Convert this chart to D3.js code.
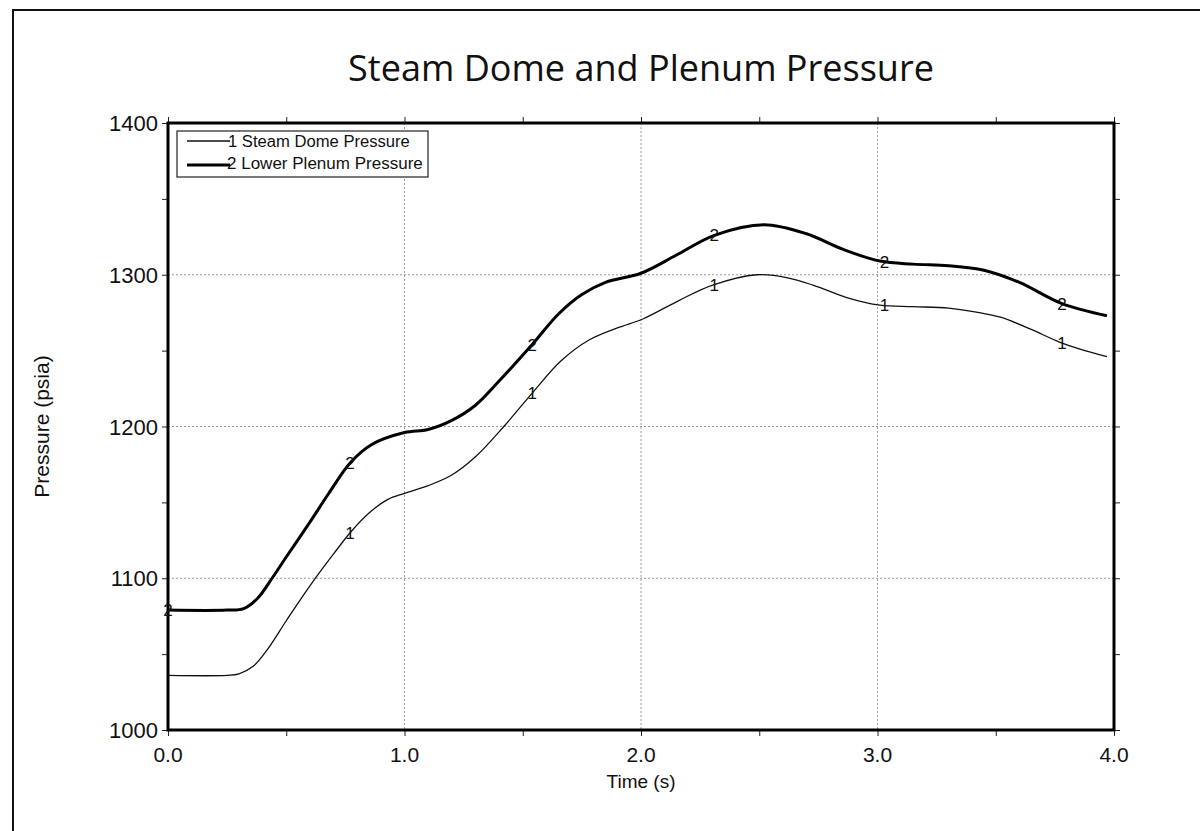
<!DOCTYPE html>
<html>
<head>
<meta charset="utf-8">
<script src="https://cdn.jsdelivr.net/npm/d3@7"></script>
<style>
  html, body { margin: 0; padding: 0; background: #fff; }
  svg { display: block; }
</style>
</head>
<body>
<svg id="chart" width="1200" height="831"></svg>
<script>
// Time samples (s) and pressures (psia) for the two traces
const steamTime = [0, 0.25, 0.3, 0.36, 0.42, 0.5, 0.6, 0.7, 0.77, 0.85, 0.93, 1.0, 1.1, 1.2, 1.3, 1.42, 1.54, 1.66, 1.78, 1.9, 2.01, 2.16, 2.3, 2.49, 2.62, 2.73, 2.87, 3.01, 3.15, 3.3, 3.43, 3.52, 3.65, 3.78, 3.97];
const steamDome = [1036, 1036, 1037, 1042, 1053, 1072, 1095, 1116, 1130, 1143, 1152, 1156, 1161, 1168, 1180, 1200, 1222, 1243, 1257, 1265, 1271, 1283, 1293, 1300, 1298, 1293, 1285, 1280, 1279, 1278, 1275, 1272, 1264, 1255, 1246];

const plenumTime = [0, 0.25, 0.32, 0.38, 0.44, 0.5, 0.6, 0.68, 0.77, 0.86, 1.0, 1.1, 1.2, 1.3, 1.4, 1.54, 1.65, 1.75, 1.85, 2.0, 2.15, 2.31, 2.52, 2.7, 2.85, 3.01, 3.15, 3.3, 3.45, 3.6, 3.78, 3.97];
const lowerPlenum = [1079, 1079, 1080, 1087, 1100, 1114, 1137, 1156, 1176, 1188, 1196, 1198, 1204, 1214, 1230, 1254, 1274, 1287, 1295, 1301, 1313, 1326, 1333, 1327, 1317, 1309, 1307, 1306, 1303, 1295, 1281, 1273];

// Times where the curve-identification digits sit
const steamMarkTimes = [0.77, 1.54, 2.31, 3.03, 3.78];
const plenumMarkTimes = [0, 0.77, 1.54, 2.31, 3.03, 3.78];

const xTicks = [0, 1, 2, 3, 4];
const xTickLabels = ["0.0", "1.0", "2.0", "3.0", "4.0"];
const xMinorTicks = [0.5, 1.5, 2.5, 3.5];
const yTicks = [1000, 1100, 1200, 1300, 1400];
const yMinorTicks = [1050, 1150, 1250, 1350];

const titleText = "Steam Dome and Plenum Pressure";
const xTitle = "Time (s)";
const yTitle = "Pressure (psia)";
const seriesNames = ["Steam Dome Pressure", "Lower Plenum Pressure"];

const svg = d3.select("#chart");
const W = 1200, H = 831;
const plot = { left: 168, right: 1114, top: 123, bottom: 730 };

const x = d3.scaleLinear().domain([0, 4]).range([plot.left, plot.right]);
const y = d3.scaleLinear().domain([1000, 1400]).range([plot.bottom, plot.top]);

// Page frame
svg.append("path")
  .attr("d", `M13,${H + 5} L13,10 L${W + 5},10`)
  .attr("fill", "none").attr("stroke", "#111").attr("stroke-width", 2);

// Fit a text element to a target width by adjusting its font size
function fitWidth(sel, target) {
  const node = sel.node();
  const fs = parseFloat(sel.attr("font-size"));
  const w = node.getComputedTextLength();
  if (w > 0) sel.attr("font-size", (fs * target / w).toFixed(2));
  return sel;
}

// Title
const title = svg.append("text")
  .attr("x", 641).attr("y", 81)
  .attr("text-anchor", "middle")
  .attr("font-family", "'Open Sans', 'Noto Sans', sans-serif")
  .attr("font-size", 30).attr("fill", "#111")
  .text(titleText);
fitWidth(title, 586);

// Grid lines at major ticks
const grid = svg.append("g").attr("stroke", "#9a9a9a").attr("stroke-width", 1)
  .attr("stroke-dasharray", "2,2");
grid.selectAll("line.gx").data(xTicks.slice(1, -1)).join("line")
  .attr("x1", d => x(d)).attr("x2", d => x(d))
  .attr("y1", plot.top).attr("y2", plot.bottom);
grid.selectAll("line.gy").data(yTicks.slice(1, -1)).join("line")
  .attr("x1", plot.left).attr("x2", plot.right)
  .attr("y1", d => y(d)).attr("y2", d => y(d));

// Axes: ticks point outward on all four sides
const tickLen = 6;
const allX = xTicks.concat(xMinorTicks);
const allY = yTicks.concat(yMinorTicks);

const axB = svg.append("g").attr("transform", `translate(0,${plot.bottom})`)
  .call(d3.axisBottom(x).tickValues(allX).tickSize(tickLen).tickFormat(""));
const axT = svg.append("g").attr("transform", `translate(0,${plot.top})`)
  .call(d3.axisTop(x).tickValues(allX).tickSize(tickLen).tickFormat(""));
const axL = svg.append("g").attr("transform", `translate(${plot.left},0)`)
  .call(d3.axisLeft(y).tickValues(allY).tickSize(tickLen).tickFormat(""));
const axR = svg.append("g").attr("transform", `translate(${plot.right},0)`)
  .call(d3.axisRight(y).tickValues(allY).tickSize(tickLen).tickFormat(""));
[axB, axT, axL, axR].forEach(a => {
  a.select(".domain").remove();
  a.selectAll(".tick line").attr("stroke", "#222").attr("stroke-width", 1);
});

// Heavy frame around the plot area
svg.append("rect")
  .attr("x", plot.left).attr("y", plot.top)
  .attr("width", plot.right - plot.left).attr("height", plot.bottom - plot.top)
  .attr("fill", "none").attr("stroke", "#000").attr("stroke-width", 3);

// Tick labels
const tickFont = "'Liberation Sans', Arial, sans-serif";
svg.append("g").selectAll("text").data(xTicks).join("text")
  .attr("x", d => x(d)).attr("y", 762)
  .attr("text-anchor", "middle")
  .attr("font-family", tickFont).attr("font-size", 21).attr("fill", "#111")
  .text((d, i) => xTickLabels[i]);
svg.append("g").selectAll("text").data(yTicks).join("text")
  .attr("x", 158).attr("y", d => y(d) + 8)
  .attr("text-anchor", "end")
  .attr("font-family", tickFont).attr("font-size", 22).attr("fill", "#111")
  .text(d => d);

// Axis titles
svg.append("text")
  .attr("x", 641).attr("y", 788).attr("text-anchor", "middle")
  .attr("font-family", tickFont).attr("font-size", 19).attr("fill", "#111")
  .text(xTitle);
svg.append("text")
  .attr("transform", `translate(49,${(plot.top + plot.bottom) / 2}) rotate(-90)`)
  .attr("text-anchor", "middle")
  .attr("font-family", tickFont).attr("font-size", 21).attr("fill", "#111")
  .text(yTitle);

// Curves
const line = d3.line().curve(d3.curveCatmullRom.alpha(0.5))
  .x(d => x(d[0])).y(d => y(d[1]));
const steamPts = steamTime.map((t, i) => [t, steamDome[i]]);
const plenumPts = plenumTime.map((t, i) => [t, lowerPlenum[i]]);

svg.append("path").datum(steamPts).attr("d", line)
  .attr("fill", "none").attr("stroke", "#111").attr("stroke-width", 1.3);
svg.append("path").datum(plenumPts).attr("d", line)
  .attr("fill", "none").attr("stroke", "#000").attr("stroke-width", 3);

// Curve identification digits placed on the curves
function valueAt(times, vals, t) {
  const i = Math.max(1, d3.bisectLeft(times, t));
  const t0 = times[i - 1], t1 = times[i];
  const f = t1 === t0 ? 0 : (t - t0) / (t1 - t0);
  return vals[i - 1] + f * (vals[i] - vals[i - 1]);
}
function marks(times, vals, markTimes, label) {
  svg.append("g").selectAll("text").data(markTimes).join("text")
    .attr("x", d => x(d)).attr("y", d => y(valueAt(times, vals, d)) + 6)
    .attr("text-anchor", "middle")
    .attr("font-family", tickFont).attr("font-size", 17).attr("fill", "#111")
    .text(label);
}
marks(steamTime, steamDome, steamMarkTimes, "1");
marks(plenumTime, lowerPlenum, plenumMarkTimes, "2");

// Legend
const lg = svg.append("g");
lg.append("rect").attr("x", 177).attr("y", 131).attr("width", 251).attr("height", 46)
  .attr("fill", "#fff").attr("stroke", "#222").attr("stroke-width", 1.2);
lg.append("line").attr("x1", 187).attr("x2", 230).attr("y1", 141).attr("y2", 141)
  .attr("stroke", "#111").attr("stroke-width", 1.3);
lg.append("line").attr("x1", 187).attr("x2", 230).attr("y1", 165).attr("y2", 165)
  .attr("stroke", "#000").attr("stroke-width", 3);
const l1 = lg.append("text").attr("x", 228).attr("y", 147)
  .attr("font-family", tickFont).attr("font-size", 15).attr("fill", "#111")
  .text("1 " + seriesNames[0]);
fitWidth(l1, 182);
const l2 = lg.append("text").attr("x", 227).attr("y", 169)
  .attr("font-family", tickFont).attr("font-size", 15).attr("fill", "#111")
  .text("2 " + seriesNames[1]);
fitWidth(l2, 196);
</script>
</body>
</html>
